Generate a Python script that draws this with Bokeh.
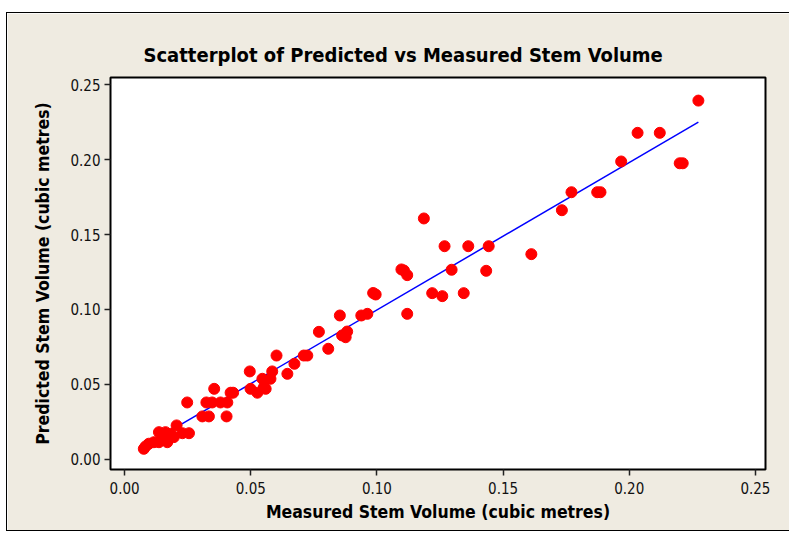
from bokeh.plotting import figure
from bokeh.models import FixedTicker, NumeralTickFormatter, Range1d, Title
from bokeh.embed import file_html
from bokeh.resources import INLINE

measured = [0.2274, 0.2033, 0.2121, 0.2200, 0.2212, 0.1968, 0.1873, 0.1886, 0.1771, 0.1733,
            0.1612, 0.1186, 0.1268, 0.1362, 0.1443, 0.1433, 0.1296, 0.1097, 0.1107, 0.1120,
            0.0985, 0.0995, 0.1219, 0.1259, 0.1344, 0.1120, 0.0853, 0.0938, 0.0962, 0.0770,
            0.0862, 0.0882, 0.0876, 0.0807, 0.0710, 0.0724, 0.0602, 0.0673, 0.0645, 0.0585,
            0.0578, 0.0546, 0.0552, 0.0496, 0.0499, 0.0526, 0.0559, 0.0420, 0.0430, 0.0355,
            0.0248, 0.0324, 0.0347, 0.0380, 0.0407, 0.0308, 0.0334, 0.0404, 0.0206, 0.0229,
            0.0255, 0.0136, 0.0162, 0.0182, 0.0195, 0.0169, 0.0136, 0.0116, 0.0096, 0.0083,
            0.0076, 0.0150]
predicted = [0.2393, 0.2178, 0.2178, 0.1975, 0.1975, 0.1987, 0.1782, 0.1782, 0.1782, 0.1662,
             0.1369, 0.1607, 0.1422, 0.1422, 0.1422, 0.1258, 0.1265, 0.1267, 0.1260, 0.1229,
             0.1110, 0.1100, 0.1109, 0.1089, 0.1109, 0.0971, 0.0960, 0.0960, 0.0971, 0.0851,
             0.0827, 0.0853, 0.0815, 0.0738, 0.0693, 0.0693, 0.0693, 0.0638, 0.0571, 0.0587,
             0.0538, 0.0538, 0.0482, 0.0587, 0.0471, 0.0445, 0.0471, 0.0445, 0.0445, 0.0471,
             0.0380, 0.0380, 0.0380, 0.0380, 0.0380, 0.0287, 0.0287, 0.0287, 0.0227, 0.0175,
             0.0175, 0.0182, 0.0182, 0.0171, 0.0149, 0.0115, 0.0115, 0.0115, 0.0105, 0.0087,
             0.0071, 0.0130]

fit_x = [0.0076, 0.2274]
fit_y = [0.0089, 0.2249]

ticks = [0.0, 0.05, 0.10, 0.15, 0.20, 0.25]

BEIGE = "#efebe1"
FONT = "DejaVu Sans Condensed"

p = figure(width=783, height=519, output_backend="svg", toolbar_location=None,
           x_range=Range1d(-0.0056, 0.2540), y_range=Range1d(-0.0067, 0.2547),
           min_border_left=103, min_border_right=25, min_border_top=64, min_border_bottom=63)
p.styles = {"margin-left": "6px", "margin-top": "12px",
            "border-left": "1px solid black", "border-top": "1px solid black",
            "border-bottom": "1px solid black"}
p.border_fill_color = BEIGE
p.background_fill_color = "white"
p.outline_line_color = "black"
p.outline_line_width = 2
p.xgrid.visible = False
p.ygrid.visible = False

p.line(fit_x, fit_y, line_color="#0000ff", line_width=1.5)
p.scatter(measured, predicted, size=11, fill_color="#ff0000", line_color="#ff0000")

for ax in (p.xaxis, p.yaxis):
    ax.ticker = FixedTicker(ticks=ticks)
    ax.formatter = NumeralTickFormatter(format="0.00")
    ax.major_tick_out = 6
    ax.major_tick_in = 0
    ax.minor_tick_line_color = None
    ax.axis_line_color = "black"
    ax.major_tick_line_color = "#222222"
    ax.major_tick_line_width = 1.5
    ax.major_label_text_font = FONT
    ax.major_label_text_font_size = "15px"
    ax.major_label_text_color = "#111111"
    ax.axis_label_text_font = FONT
    ax.axis_label_text_font_style = "bold"
    ax.axis_label_text_font_size = "17.5px"
    ax.axis_label_text_color = "black"

p.xaxis.axis_label = "Measured Stem Volume (cubic metres)"
p.yaxis.axis_label = "Predicted Stem Volume (cubic metres)"
p.xaxis.major_label_standoff = 6
p.yaxis.major_label_standoff = 4
p.xaxis.axis_label_standoff = 5
p.yaxis.axis_label_standoff = 14

p.title = Title(text="Scatterplot of Predicted vs Measured Stem Volume", align="left",
                offset=33, text_font=FONT, text_font_style="bold",
                text_font_size="20px", text_color="black", standoff=22)

open("out.html", "w").write(file_html(p, INLINE))
